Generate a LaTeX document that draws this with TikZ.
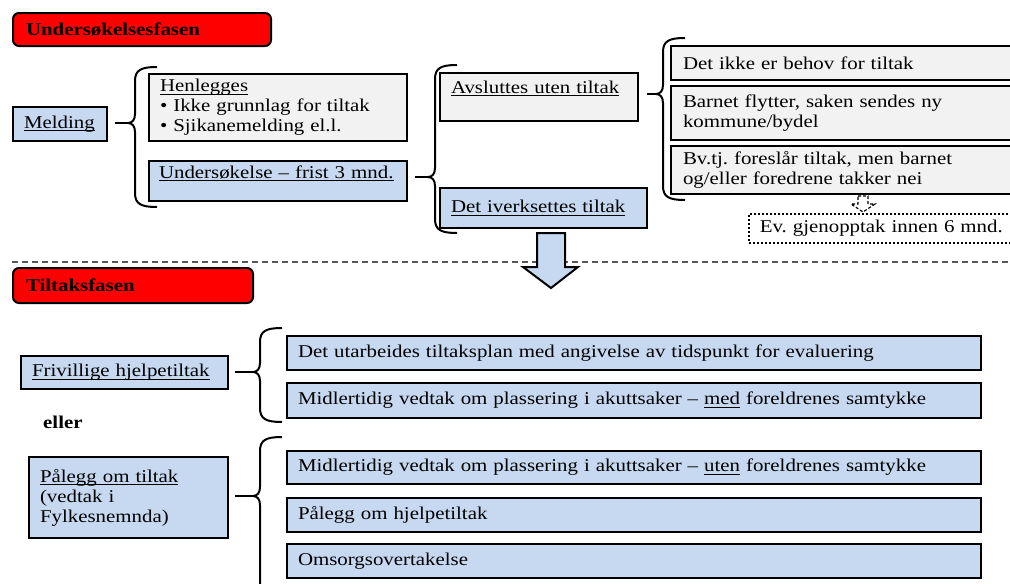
\documentclass[tikz,border=0pt]{standalone}
\usepackage{fontspec}
\setmainfont{Liberation Serif}[FakeStretch=1.16]
\usetikzlibrary{positioning}
\frenchspacing

\definecolor{boxblue}{HTML}{C6D9F1}
\definecolor{boxgray}{HTML}{F2F2F2}
\definecolor{sepgray}{HTML}{595959}

% underline through descenders
\newcommand{\undl}[1]{\leavevmode\setbox0\hbox{#1}\rlap{\rule[-3pt]{\wd0}{1pt}}\box0\relax}

% curly brace: stem x, top, tip, bottom, tip name
\newcommand{\curlybrace}[5]{%
  \draw[bracket] ({#1+22},#2) .. controls ({#1+6},#2) and (#1,{#2+3}) .. (#1,{#2+14})
    -- (#1,{#3-9}) .. controls (#1,{#3-3}) and ({#1-3},#3) .. ({#1-7},#3)
    .. controls ({#1-3},#3) and (#1,{#3+3}) .. (#1,{#3+9})
    -- (#1,{#4-14}) .. controls (#1,{#4-3}) and ({#1+6},#4) .. ({#1+22},#4);
  \coordinate (#5) at ({#1-7},#3);}

\begin{document}
\begin{tikzpicture}[
    x=1pt, y=-1pt,
    base/.style={draw=black, line width=2pt, font=\fontsize{18}{20}\selectfont,
      inner ysep=0pt, inner xsep=11pt, anchor=north west, align=left},
    bluebox/.style={base, fill=boxblue},
    graybox/.style={base, fill=boxgray},
    phase/.style={base, fill=red, rounded corners=6pt, inner xsep=13pt,
      font=\fontsize{18}{20}\selectfont\bfseries},
    notebox/.style={base, dotted, line width=1.6pt, fill=white},
    bracket/.style={line width=2pt},
    link/.style={line width=2pt},
    sep/.style={dashed, dash pattern=on 6pt off 4pt, line width=1.2pt, draw=sepgray}
]
\useasboundingbox (0,0) rectangle (1010,584);
\clip (0,0) rectangle (1010,584);

% Undersøkelsesfasen
\node[phase, text width=232pt, minimum height=33pt] (fase1) at (12,12) {Undersøkelsesfasen};

\node[bluebox, text width=72pt, minimum height=34pt] (meld) at (12,106) {\undl{Melding}};
\node[graybox, text width=236pt, inner xsep=11pt, minimum height=67pt] (henl) at (148,73)
  {\undl{Henlegges}\\• Ikke grunnlag for tiltak\\• Sjikanemelding el.l.};
\node[bluebox, text width=238pt, inner xsep=10pt, text height=17pt, text depth=23pt] (unders) at (148,160)
  {\undl{Undersøkelse – frist 3 mnd.}};

\node[graybox, text width=176pt, text height=20pt, text depth=28pt] (avsl) at (439,72)
  {\undl{Avsluttes uten tiltak}};
\node[bluebox, text width=185pt, minimum height=40pt] (iverk) at (439,187)
  {\undl{Det iverksettes tiltak}};

\node[graybox, text width=321pt, inner xsep=12pt, minimum height=34pt] (behov) at (670,45)
  {Det ikke er behov for tiltak};
\node[graybox, text width=321pt, inner xsep=12pt, minimum height=54pt] (flytt) at (670,85)
  {Barnet flytter, saken sendes ny\\kommune/bydel};
\node[graybox, text width=321pt, inner xsep=12pt, minimum height=48pt] (takk) at (670,145)
  {Bv.tj. foreslår tiltak, men barnet\\og/eller foredrene takker nei};
\node[notebox, text width=255pt, minimum height=29pt] (gjen) at (748,213)
  {Ev. gjenopptak innen 6 mnd.};

% braces and links
\curlybrace{135}{67}{123}{207}{b1}
\curlybrace{435}{65}{177}{233}{b2}
\curlybrace{663}{38}{94}{200}{b3}
\draw[link] ([xshift=7pt]meld.east |- b1) -- (b1);
\draw[link] ([xshift=7pt]unders.east |- b2) -- (b2);
\draw[link] ([xshift=8pt]avsl.east |- b3) -- (b3);

% small dashed arrow
\draw[dashed, dash pattern=on 3pt off 2pt, line width=1.2pt, fill=white]
  (858,196) -- (868,196) -- (868,204) -- (875,204) -- (863,212) -- (851,204) -- (858,204) -- cycle;

% separator
\draw[sep] (12,262) -- (1010,262);

% big arrow
\draw[line width=2pt, fill=boxblue, line join=miter]
  (537,233) -- (565,233) -- (565,267) -- (578,267) -- (551,288) -- (523,267) -- (537,267) -- cycle;

% Tiltaksfasen
\node[phase, text width=214pt, minimum height=35pt] (fase2) at (12,267) {Tiltaksfasen};

\node[bluebox, text width=185pt, minimum height=33pt] (friv) at (20,355) {\undl{Frivillige hjelpetiltak}};
\node[font=\fontsize{18}{20}\selectfont\bfseries, anchor=base west, inner sep=0pt] (eller) at (43,428) {eller};
\node[bluebox, text width=177pt, minimum height=81pt] (paalegg) at (28,456)
  {\undl{Pålegg om tiltak}\\(vedtak i\\Fylkesnemnda)};

\node[bluebox, text width=672pt, minimum height=34pt] (plan) at (286,335)
  {Det utarbeides tiltaksplan med angivelse av tidspunkt for evaluering};
\node[bluebox, text width=672pt, minimum height=35pt] (med) at (286,382)
  {Midlertidig vedtak om plassering i akuttsaker – \undl{med} foreldrenes samtykke};
\node[bluebox, text width=672pt, minimum height=33pt] (uten) at (286,450)
  {Midlertidig vedtak om plassering i akuttsaker – \undl{uten} foreldrenes samtykke};
\node[bluebox, text width=672pt, minimum height=34pt] (hjelp) at (286,497)
  {Pålegg om hjelpetiltak};
\node[bluebox, text width=672pt, minimum height=34pt] (omsorg) at (286,543)
  {Omsorgsovertakelse};

\curlybrace{260}{328}{372}{422}{b4}
\curlybrace{260}{437}{496}{610}{b5}
\draw[link] ([xshift=6pt]friv.east |- b4) -- (b4);
\draw[link] ([xshift=6pt]paalegg.east |- b5) -- (b5);

\end{tikzpicture}
\end{document}
